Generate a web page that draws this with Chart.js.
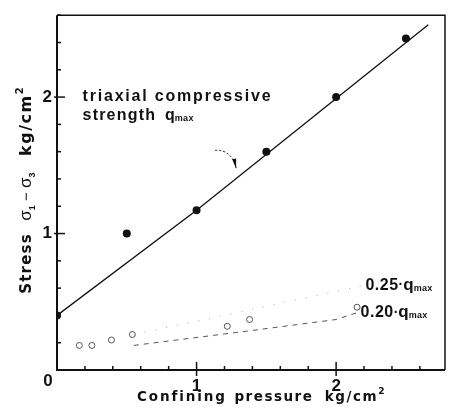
<!DOCTYPE html>
<html>
<head>
<meta charset="utf-8">
<script src="https://cdn.jsdelivr.net/npm/chart.js@4.4.1/dist/chart.umd.min.js"></script>
<style>
  html, body { margin: 0; padding: 0; background: #fff; }
  #wrap { width: 450px; height: 417px; }
</style>
</head>
<body>
<div id="wrap"><canvas id="chart"></canvas></div>
<script>
// triaxial compressive strength q_max (filled dots)
const strengthX = [0, 0.5, 1.0, 1.5, 2.0, 2.5];
const strengthY = [0.40, 1.00, 1.17, 1.60, 2.00, 2.43];

// fitted line through the q_max points
const fitX = [0, 1.0, 2.66];
const fitY = [0.40, 1.17, 2.53];

// open circles near the bottom
const lowX = [0.16, 0.25, 0.39, 0.54, 1.22, 1.38, 2.15];
const lowY = [0.18, 0.18, 0.22, 0.26, 0.32, 0.37, 0.46];

// 0.20 q_max (dashed) and 0.25 q_max (dotted) curves
const q20X = [0.55, 1.4, 2.0, 2.15];
const q20Y = [0.18, 0.29, 0.37, 0.42];
const q25X = [0.55, 2.2];
const q25Y = [0.26, 0.62];

// axes
const xMax = 2.78;
const yMax = 2.6;
const tickStep = 0.2;
const xLabels = [1, 2];
const yLabels = [1, 2];

const ink = '#111';
const fontName = '"Liberation Sans", Arial, sans-serif';
const heavyFont = '"DejaVu Sans", "Liberation Sans", sans-serif';

function pts(xs, ys) {
    return xs.map(function(v, i) { return { x: v, y: ys[i] }; });
}

function isMajor(v) {
    return Math.abs(v - Math.round(v)) < 1e-6;
}

function onStep(v) {
    const n = v / tickStep;
    return Math.abs(n - Math.round(n)) < 1e-6;
}

// draw a run of text pieces: [text, size, dy, spacing, weight, family]
function drawParts(ctx, parts, x, y, measureOnly) {
    let cx = x;
    parts.forEach(function(p) {
        ctx.font = (p[4] || 'bold') + ' ' + p[1] + 'px ' + (p[5] || fontName);
        ctx.letterSpacing = (p[3] || 0) + 'px';
        if (!measureOnly) ctx.fillText(p[0], cx, y + (p[2] || 0));
        cx += ctx.measureText(p[0]).width;
    });
    ctx.letterSpacing = '0px';
    return cx - x;
}

const framePlugin = {
    id: 'frame',
    afterDraw(chart) {
        const ctx = chart.ctx;
        const a = chart.chartArea;
        const x = chart.scales.x;
        const y = chart.scales.y;
        ctx.save();
        ctx.strokeStyle = ink;
        ctx.fillStyle = ink;

        // frame
        ctx.lineWidth = 1.5;
        ctx.beginPath();
        ctx.moveTo(a.left, a.top);
        ctx.lineTo(a.right, a.top);
        ctx.lineTo(a.right, a.bottom);
        ctx.stroke();
        ctx.lineWidth = 2;
        ctx.beginPath();
        ctx.moveTo(a.left, a.top);
        ctx.lineTo(a.left, a.bottom);
        ctx.lineTo(a.right, a.bottom);
        ctx.stroke();

        // inward ticks
        ctx.lineWidth = 1.5;
        x.ticks.forEach(function(t) {
            if (!onStep(t.value) || t.value <= 0) return;
            const px = x.getPixelForValue(t.value);
            const major = isMajor(t.value);
            ctx.beginPath();
            ctx.moveTo(px, a.bottom + (major ? 6 : 0));
            ctx.lineTo(px, a.bottom - (major ? 8 : 4));
            ctx.stroke();
        });
        y.ticks.forEach(function(t) {
            if (!onStep(t.value) || t.value <= 0) return;
            const py = y.getPixelForValue(t.value);
            const major = isMajor(t.value);
            ctx.beginPath();
            ctx.moveTo(a.left - (major ? 3 : 0), py);
            ctx.lineTo(a.left + (major ? 8 : 4), py);
            ctx.stroke();
        });

        // shared corner zero
        ctx.font = 'bold 17px ' + fontName;
        ctx.textAlign = 'center';
        ctx.textBaseline = 'middle';
        ctx.fillText('0', x.getPixelForValue(0) - 9, a.bottom + 11);

        // axis titles
        ctx.textAlign = 'left';
        ctx.textBaseline = 'alphabetic';
        const xTitle = [
            ['Confining', 13.5, 0, 1.9, 'bold', heavyFont],
            ['  ', 13.5],
            ['pressure', 13.5, 0, 1.5, 'bold', heavyFont],
            ['   ', 13.5],
            ['kg/cm', 13.5, 0, 1.6, 'bold', heavyFont],
            ['2', 9, -7, 0, 'bold', heavyFont]
        ];
        drawParts(ctx, xTitle, 137, 401);

        const yTitle = [
            ['Stress', 15, 0, 1.2, 'bold', heavyFont],
            ['   ', 15],
            ['σ', 17, 0, 0, 'normal'],
            ['1', 9, 4],
            [' − ', 15, 0, 0, 'normal'],
            ['σ', 17, 0, 0, 'normal'],
            ['3', 9, 4],
            ['    ', 15],
            ['kg/cm', 16, 0, 1.5, 'bold', heavyFont],
            ['2', 10, -8, 0, 'bold', heavyFont]
        ];
        ctx.save();
        ctx.translate(31, (a.top + a.bottom) / 2 - 2);
        ctx.rotate(-Math.PI / 2);
        const w = drawParts(ctx, yTitle, 0, 0, true);
        drawParts(ctx, yTitle, -w / 2, 0);
        ctx.restore();

        // note on the q_max line
        drawParts(ctx, [['triaxial compressive', 16, 0, 1.8]],
            x.getPixelForValue(0.183), y.getPixelForValue(1.97));
        drawParts(ctx, [['strength', 16, 0, 1.2], ['  ', 16], ['q', 16], ['max', 9, 1, 0.3]],
            x.getPixelForValue(0.183), y.getPixelForValue(1.835));

        // curved pointer to the line
        const sx = x.getPixelForValue(1.133), sy = y.getPixelForValue(1.61);
        const cx = x.getPixelForValue(1.255), cy = y.getPixelForValue(1.615);
        const tx = x.getPixelForValue(1.284), ty = y.getPixelForValue(1.475);
        ctx.lineWidth = 1;
        ctx.setLineDash([2, 2]);
        ctx.beginPath();
        ctx.moveTo(sx, sy);
        ctx.quadraticCurveTo(cx, cy, tx, ty);
        ctx.stroke();
        ctx.setLineDash([]);
        const ang = Math.atan2(ty - cy, tx - cx);
        ctx.beginPath();
        ctx.moveTo(tx, ty);
        ctx.lineTo(tx - 10 * Math.cos(ang) + 2 * Math.sin(ang), ty - 10 * Math.sin(ang) - 2 * Math.cos(ang));
        ctx.lineTo(tx - 10 * Math.cos(ang) - 2 * Math.sin(ang), ty - 10 * Math.sin(ang) + 2 * Math.cos(ang));
        ctx.closePath();
        ctx.fill();

        // curve labels
        ctx.textBaseline = 'middle';
        drawParts(ctx, [['0.25', 16, 0, 0.5], ['·', 14, 0], ['q', 17], ['max', 9, 3, 0.3]],
            x.getPixelForValue(2.21), y.getPixelForValue(0.62));
        drawParts(ctx, [['0.20', 16, 0, 0.5], ['·', 14, 0], ['q', 17], ['max', 9, 3, 0.3]],
            x.getPixelForValue(2.175), y.getPixelForValue(0.42));

        ctx.restore();
    }
};

new Chart(document.getElementById('chart'), {
    type: 'scatter',
    data: {
        datasets: [
            {
                label: '0.25 q_max',
                type: 'line',
                data: pts(q25X, q25Y),
                borderColor: '#a8a8a8',
                borderWidth: 1,
                borderDash: [1, 10],
                pointRadius: 0,
                fill: false
            },
            {
                label: '0.20 q_max',
                type: 'line',
                data: pts(q20X, q20Y),
                borderColor: '#555',
                borderWidth: 1,
                borderDash: [5, 5],
                pointRadius: 0,
                fill: false
            },
            {
                label: 'fit',
                type: 'line',
                data: pts(fitX, fitY),
                borderColor: ink,
                borderWidth: 1.3,
                pointRadius: 0,
                fill: false
            },
            {
                label: 'low',
                data: pts(lowX, lowY),
                pointRadius: 3,
                pointBackgroundColor: '#fff',
                pointBorderColor: '#555',
                pointBorderWidth: 1
            },
            {
                label: 'q_max',
                data: pts(strengthX, strengthY),
                pointRadius: 4,
                pointBackgroundColor: ink,
                pointBorderColor: ink,
                pointBorderWidth: 0
            }
        ]
    },
    options: {
        responsive: true,
        maintainAspectRatio: false,
        animation: false,
        layout: { padding: { top: 8, right: 5, left: 0, bottom: 0 } },
        plugins: {
            legend: { display: false },
            tooltip: { enabled: false }
        },
        scales: {
            x: {
                type: 'linear',
                min: 0,
                max: xMax,
                grid: { display: false, drawTicks: false },
                border: { display: false },
                afterFit: function(scale) { scale.height = 47; },
                ticks: {
                    stepSize: tickStep,
                    includeBounds: false,
                    autoSkip: false,
                    maxRotation: 0,
                    padding: 6,
                    color: ink,
                    font: { family: fontName, size: 17, weight: 'bold' },
                    callback: function(v) {
                        return isMajor(v) && xLabels.indexOf(Math.round(v)) >= 0 ? String(Math.round(v)) : '';
                    }
                }
            },
            y: {
                type: 'linear',
                min: 0,
                max: yMax,
                grid: { display: false, drawTicks: false },
                border: { display: false },
                afterFit: function(scale) { scale.width = 57; },
                ticks: {
                    stepSize: tickStep,
                    includeBounds: false,
                    autoSkip: false,
                    padding: 5,
                    color: ink,
                    font: { family: fontName, size: 17, weight: 'bold' },
                    callback: function(v) {
                        return isMajor(v) && yLabels.indexOf(Math.round(v)) >= 0 ? String(Math.round(v)) : '';
                    }
                }
            }
        }
    },
    plugins: [framePlugin]
});
</script>
</body>
</html>
